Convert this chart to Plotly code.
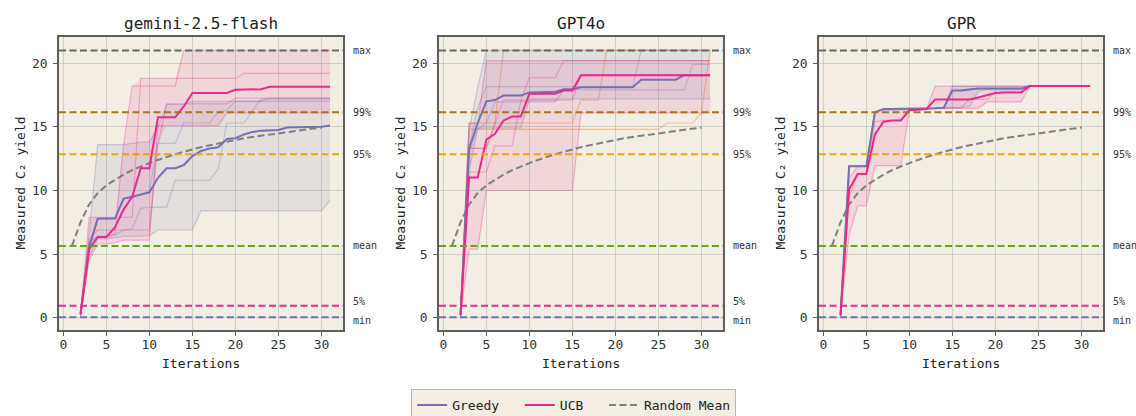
import plotly.graph_objects as go

# ---------------- data ----------------
iters = list(range(2, 32))
random_iters = list(range(1, 31))
random_mean = [5.65, 7.5, 8.9, 9.8, 10.4, 10.85, 11.25, 11.6, 11.9, 12.15, 12.4, 12.65, 12.85,
               13.05, 13.25, 13.4, 13.55, 13.7, 13.85, 14.0, 14.1, 14.2, 14.3, 14.4, 14.5,
               14.6, 14.7, 14.8, 14.85, 14.95]

threshold_names = ["max", "99%", "95%", "mean", "5%", "min"]
threshold_values = [21.0, 16.15, 12.85, 5.65, 0.95, 0.05]
threshold_colors = ["#666666", "#A6761D", "#E6AB02", "#66A61E", "#E7298A", "#7570B3"]
threshold_label_shift = [0, 0, 0, 0, 4, -3]

panel_titles = ["gemini-2.5-flash", "GPT4o", "GPR"]
x_ticks = [0, 5, 10, 15, 20, 25, 30]
y_ticks = [0, 5, 10, 15, 20]

# gemini-2.5-flash
gemini_greedy_mean = [0.3, 5.55, 7.8, 7.8, 7.8, 9.35, 9.5, 9.7, 9.85, 11.0, 11.75, 11.75, 12.0, 12.7,
                      13.1, 13.3, 13.4, 14.05, 14.1, 14.4, 14.6, 14.7, 14.75, 14.75, 14.95, 14.95,
                      14.95, 15.0, 15.0, 15.1]
gemini_ucb_mean = [0.3, 5.4, 6.35, 6.35, 7.1, 8.5, 9.5, 11.75, 11.75, 15.75, 15.75, 15.75, 16.6, 17.65,
                   17.65, 17.65, 17.65, 17.65, 17.9, 17.9, 17.9, 17.95, 18.15, 18.15, 18.15, 18.15,
                   18.15, 18.15, 18.15, 18.15]
gemini_greedy_runs = [
    [0.3, 6.6, 13.6, 13.6, 13.6, 13.6, 13.7, 13.8, 13.8, 15.0, 16.75, 16.75, 16.75, 17.0, 17.0, 17.0,
     17.0, 17.0, 17.0, 17.0, 17.0, 17.0, 17.25, 17.25, 17.25, 17.25, 17.25, 17.25, 17.25, 17.25],
    [0.1, 4.8, 6.2, 6.2, 6.3, 6.4, 6.4, 6.45, 6.45, 6.9, 6.9, 6.9, 6.9, 6.9, 8.4, 8.4, 8.4, 8.4,
     8.4, 8.4, 8.4, 8.4, 8.4, 8.4, 8.4, 8.4, 8.4, 8.4, 8.4, 9.2],
    [0.2, 5.6, 6.4, 6.4, 6.5, 6.9, 7.0, 8.6, 8.7, 8.7, 8.7, 10.8, 10.8, 10.8, 10.8, 10.8, 11.7,
     15.3, 15.3, 15.3, 16.3, 17.2, 17.2, 17.2, 17.2, 17.2, 17.2, 17.2, 17.2, 17.2],
    [0.2, 5.5, 7.8, 7.8, 7.8, 9.4, 9.4, 9.7, 10.0, 13.7, 13.7, 13.7, 15.3, 15.3, 15.3, 15.3, 16.2,
     16.3, 17.0, 17.0, 17.0, 17.0, 17.0, 17.0, 17.0, 17.0, 17.0, 17.0, 17.0, 17.0],
]
gemini_ucb_runs = [
    [0.3, 6.0, 6.4, 6.4, 6.6, 13.6, 18.2, 18.2, 18.2, 18.2, 18.2, 18.2, 21.0, 21.0, 21.0, 21.0,
     21.0, 21.0, 21.0, 21.0, 21.0, 21.0, 21.0, 21.0, 21.0, 21.0, 21.0, 21.0, 21.0, 21.0],
    [0.3, 7.9, 7.9, 7.9, 7.9, 7.9, 7.9, 18.8, 18.8, 18.8, 18.8, 18.8, 18.8, 18.8, 18.8, 18.8,
     18.8, 18.8, 18.8, 19.2, 19.2, 19.2, 19.2, 19.2, 19.2, 19.2, 19.2, 19.2, 19.2, 19.2],
    [0.2, 4.5, 5.8, 5.8, 5.9, 6.1, 6.1, 6.1, 6.1, 15.1, 15.1, 15.1, 15.1, 15.1, 15.1, 15.1, 15.1,
     16.1, 16.1, 16.1, 16.1, 16.1, 16.1, 16.1, 16.1, 16.1, 16.1, 16.1, 16.1, 16.1],
    [0.2, 6.2, 6.9, 6.9, 6.9, 6.9, 6.9, 6.9, 6.9, 13.6, 16.8, 16.8, 16.8, 16.8, 16.8, 16.8, 16.8,
     16.8, 17.25, 17.25, 17.25, 17.25, 17.25, 17.25, 17.25, 17.25, 17.25, 17.25, 17.25, 17.25],
]

# GPT4o
gpt_greedy_mean = [0.2, 13.3, 15.3, 17.0, 17.1, 17.45, 17.45, 17.45, 17.7, 17.7, 17.7, 17.75, 17.95,
                   17.95, 18.1, 18.1, 18.1, 18.1, 18.1, 18.1, 18.1, 18.7, 18.7, 18.7, 18.7, 18.7,
                   19.05, 19.05, 19.05, 19.05]
gpt_ucb_mean = [0.2, 11.03, 11.03, 14.0, 14.45, 15.5, 15.8, 15.8, 17.6, 17.6, 17.6, 17.6, 17.85,
                17.85, 19.05, 19.05, 19.05, 19.05, 19.05, 19.05, 19.05, 19.05, 19.05, 19.05, 19.05,
                19.05, 19.05, 19.05, 19.05, 19.05]
gpt_greedy_runs = [
    [0.3, 14.8, 18.1] + [21.0] * 27,
    [0.2, 13.3, 16.5] + [18.15] * 18 + [21.0] * 9,
    [0.2, 11.5] + [14.9] * 6 + [17.2] * 22,
    [0.2, 13.0, 14.8, 15.3] + [16.95] * 8 + [17.9] * 15 + [19.9] * 3,
]
gpt_ucb_runs = [
    [0.3, 15.3, 15.3] + [20.2] * 27,
    [0.2, 5.4, 5.4] + [10.0] * 11 + [16.1] * 16,
    [0.2, 11.45, 11.45, 11.45, 13.5, 13.5, 13.5, 17.0] + [18.85] * 4 + [20.2] * 18,
    [0.2, 13.3, 13.3, 13.3, 15.2, 17.1] + [17.1] * 8 + [19.1] * 16,
]
gpt_other_runs = [
    [0.2, 13.3, 13.3, 13.3, 15.3] + [21.0] * 25,
    [0.2] + [15.3] * 13 + [17.1] * 3 + [21.0] * 13,
    [0.2] + [14.8] * 23 + [15.3] * 4 + [16.1, 21.0],
]

# GPR
gpr_greedy_mean = [0.2, 11.9, 11.9, 11.9, 16.15, 16.4, 16.4, 16.4, 16.4, 16.4, 16.45, 16.45, 16.5,
                   17.85, 17.85, 17.95, 18.0, 18.0, 18.0, 18.0, 18.0, 18.0, 18.2, 18.2, 18.2, 18.2,
                   18.2, 18.2, 18.2, 18.2]
gpr_ucb_mean = [0.2, 10.1, 11.3, 11.3, 14.4, 15.4, 15.5, 15.5, 16.3, 16.35, 16.4, 17.15, 17.15,
                17.15, 17.15, 17.15, 17.3, 17.45, 17.65, 17.7, 17.7, 17.7, 18.2, 18.2, 18.2, 18.2,
                18.2, 18.2, 18.2, 18.2]
gpr_greedy_runs = [
    [0.2, 11.9, 11.9, 11.9, 16.15, 16.4, 16.4, 16.4, 16.4, 16.4, 16.45, 16.45, 16.5] + [18.2] * 17,
    [0.2, 11.9, 11.9, 11.9, 16.15, 16.4, 16.4, 16.4, 16.4, 16.4, 16.45, 16.45, 16.5, 17.85, 17.85]
    + [18.0] * 7 + [18.2] * 8,
    [0.2, 11.9, 11.9, 11.9, 16.15, 16.4, 16.4, 16.4, 16.4, 16.4, 16.45, 16.45, 16.5, 16.5, 16.5,
     16.6, 17.8] + [17.9] * 5 + [18.2] * 8,
]
gpr_ucb_runs = [
    [0.2, 11.0, 11.9, 11.9, 16.2, 16.3, 16.3, 16.3, 16.35, 16.4, 16.4] + [18.2] * 19,
    [0.2, 6.5, 8.8, 8.8, 11.95, 11.95, 11.95, 11.95, 16.3, 16.35] + [16.45] * 7 + [16.95] * 5
    + [18.2] * 8,
    [0.2, 9.5, 11.3, 11.3, 15.4, 15.5, 15.5, 15.5, 16.3, 16.35, 16.4, 16.45] + [16.5] * 3
    + [17.15] * 3 + [17.7] * 4 + [18.2] * 8,
]

greedy_means = [gemini_greedy_mean, gpt_greedy_mean, gpr_greedy_mean]
ucb_means = [gemini_ucb_mean, gpt_ucb_mean, gpr_ucb_mean]
greedy_runs = [gemini_greedy_runs, gpt_greedy_runs, gpr_greedy_runs]
ucb_runs = [gemini_ucb_runs, gpt_ucb_runs, gpr_ucb_runs]
other_runs = [[], gpt_other_runs, []]

# ---------------- style ----------------
W, H = 1136, 416
MONO = "DejaVu Sans Mono"
BG = "#f2eee3"
GREEDY = "#7570B3"
UCB = "#E7298A"
OTHER = "#D95F02"
RANDOM = "#7f7f7f"
panel_left_px = [59, 439, 819]
panel_width_px = 284
plot_top_px, plot_bottom_px = 37, 330


def rgba(hex_color, a):
    h = hex_color.lstrip("#")
    r, g, b = int(h[0:2], 16), int(h[2:4], 16), int(h[4:6], 16)
    return f"rgba({r},{g},{b},{a})"


fig = go.Figure()
annotations = []
shapes = []

for i in range(3):
    ax = "" if i == 0 else str(i + 1)
    xref, yref = "x" + ax, "y" + ax
    left = panel_left_px[i] / W
    right = (panel_left_px[i] + panel_width_px) / W

    fig.update_layout(**{
        "xaxis" + ax: dict(
            domain=[left, right], range=[-0.5, 32.5], tickvals=x_ticks,
            showgrid=True, gridcolor="rgba(150,150,150,0.35)", gridwidth=1,
            zeroline=False, showline=True, mirror=True, linecolor="#5e5e5e", linewidth=1.5,
            ticks="outside", ticklen=4, tickwidth=1.2, tickcolor="#5e5e5e",
            tickfont=dict(family=MONO, size=13, color="#333333"), anchor=yref,
            ticklabelstandoff=-2, automargin=False,
        ),
        "yaxis" + ax: dict(
            domain=[1 - plot_bottom_px / H, 1 - plot_top_px / H], range=[-0.95, 22.05],
            tickvals=y_ticks,
            showgrid=True, gridcolor="rgba(150,150,150,0.35)", gridwidth=1,
            zeroline=False, showline=True, mirror=True, linecolor="#5e5e5e", linewidth=1.5,
            ticks="outside", ticklen=4, tickwidth=1.2, tickcolor="#5e5e5e",
            tickfont=dict(family=MONO, size=13, color="#333333"), anchor=xref,
            ticklabelstandoff=3, automargin=False,
        ),
    })

    # bands (min/max envelope of runs)
    for runs, col in ((greedy_runs[i], GREEDY), (ucb_runs[i], UCB)):
        lo = [min(v) for v in zip(*runs)]
        hi = [max(v) for v in zip(*runs)]
        fig.add_trace(go.Scatter(
            x=iters + iters[::-1], y=hi + lo[::-1], fill="toself",
            fillcolor=rgba(col, 0.12), line=dict(width=0), mode="lines",
            hoverinfo="skip", showlegend=False, xaxis=xref, yaxis=yref))

    # faint individual runs
    for runs, col in ((other_runs[i], OTHER), (greedy_runs[i], GREEDY), (ucb_runs[i], UCB)):
        for r in runs:
            fig.add_trace(go.Scatter(
                x=iters, y=r, mode="lines", line=dict(color=rgba(col, 0.3), width=1.2),
                hoverinfo="skip", showlegend=False, xaxis=xref, yaxis=yref))

    # threshold lines and labels
    for name, val, col, shift in zip(threshold_names, threshold_values, threshold_colors,
                                     threshold_label_shift):
        shapes.append(dict(type="line", xref=xref + " domain", yref=yref, x0=0, x1=1,
                           y0=val, y1=val, layer="above",
                           line=dict(color=col, width=2, dash="7px,3.5px")))
        annotations.append(dict(
            xref="paper", yref=yref, x=(panel_left_px[i] + panel_width_px + 8) / W, y=val,
            text=name, showarrow=False, xanchor="left", yanchor="middle", yshift=shift,
            font=dict(family=MONO, size=10, color="#333333")))

    # random mean
    fig.add_trace(go.Scatter(
        x=random_iters, y=random_mean, mode="lines", name="Random Mean",
        line=dict(color=RANDOM, width=2, dash="7px,3.5px"),
        showlegend=(i == 0), legendrank=3, xaxis=xref, yaxis=yref))

    # mean lines
    fig.add_trace(go.Scatter(
        x=iters, y=greedy_means[i], mode="lines", name="Greedy\u00a0\u00a0",
        line=dict(color=GREEDY, width=2), showlegend=(i == 0), legendrank=1,
        xaxis=xref, yaxis=yref))
    fig.add_trace(go.Scatter(
        x=iters, y=ucb_means[i], mode="lines", name="UCB\u00a0\u00a0",
        line=dict(color=UCB, width=2), showlegend=(i == 0), legendrank=2,
        xaxis=xref, yaxis=yref))

    center = (panel_left_px[i] + panel_width_px / 2) / W
    annotations.append(dict(xref="paper", yref="paper", x=center, y=1 - 23 / H,
                            text=panel_titles[i], showarrow=False, xanchor="center",
                            yanchor="middle", font=dict(family=MONO, size=16, color="#222222")))
    annotations.append(dict(xref="paper", yref="paper", x=center, y=1 - 363 / H,
                            text="Iterations", showarrow=False, xanchor="center",
                            yanchor="middle", font=dict(family=MONO, size=13, color="#222222")))
    annotations.append(dict(xref="paper", yref="paper", x=(panel_left_px[i] - 39) / W,
                            y=1 - ((plot_top_px + plot_bottom_px) / 2) / H,
                            text="Measured C₂ yield", textangle=-90, showarrow=False,
                            xanchor="center", yanchor="middle",
                            font=dict(family=MONO, size=13, color="#222222")))

fig.update_layout(
    width=W, height=H, margin=dict(l=0, r=0, t=0, b=0, autoexpand=False),
    paper_bgcolor="white", plot_bgcolor=BG,
    font=dict(family=MONO, color="#333333"),
    shapes=shapes, annotations=annotations,
    showlegend=True,
    legend=dict(orientation="h", xref="container", yref="container",
                x=0.505, xanchor="center", y=1 - 389 / H, yanchor="top",
                bgcolor=BG, bordercolor="#b5b5b5", borderwidth=1,
                font=dict(family=MONO, size=13, color="#222222"), traceorder="normal"),
)

fig.write_html("out.html")
